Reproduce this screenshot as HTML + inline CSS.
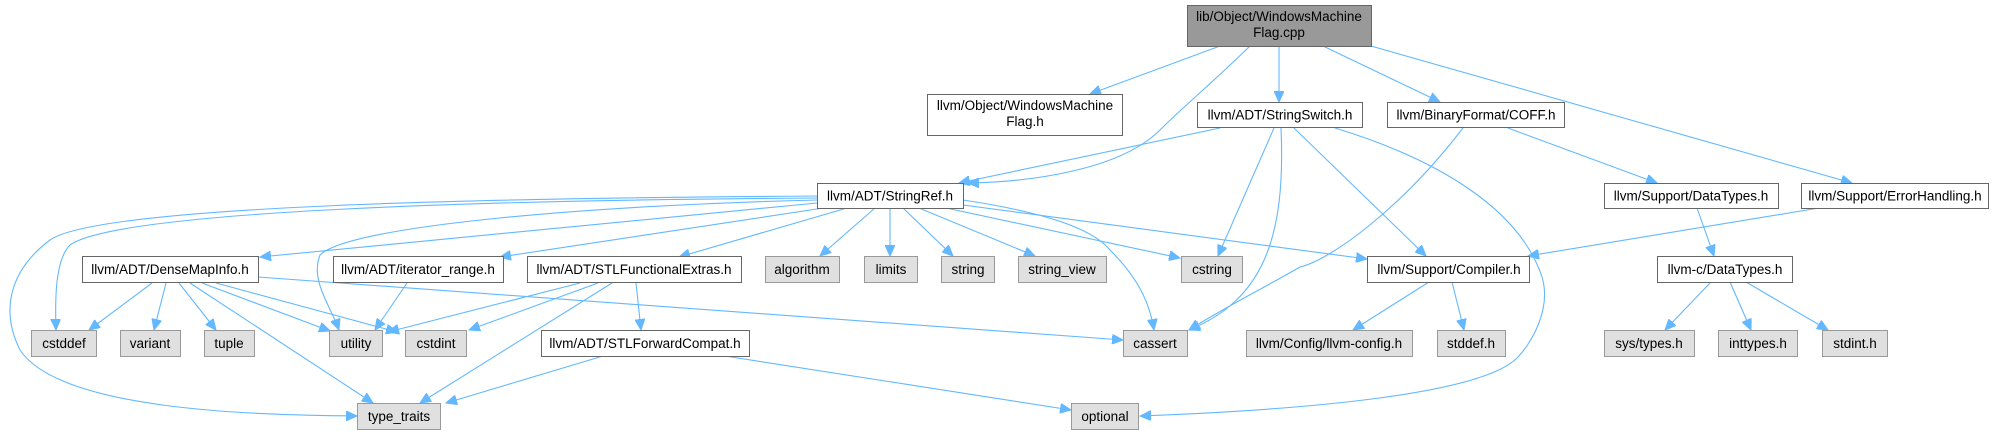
<!DOCTYPE html>
<html><head><meta charset="utf-8"><style>
html,body{margin:0;padding:0;background:#fff;}
svg{display:block;}
text{font-family:"Liberation Sans",Arial,sans-serif;font-size:13.5px;fill:#000;}
.w{fill:#fff;stroke:#666;stroke-width:1;}
.g{fill:#e0e0e0;stroke:#999;stroke-width:1;}
.t{fill:#999;stroke:#666;stroke-width:1;}
.e{fill:none;stroke:#63b8ff;stroke-width:1.1;}
</style></head><body>
<svg width="1992" height="435" viewBox="0 0 1992 435" xmlns="http://www.w3.org/2000/svg">
<defs>
<marker id="a" markerUnits="userSpaceOnUse" markerWidth="12" markerHeight="10" refX="11" refY="5" orient="auto">
<path d="M0,0 L11,5 L0,10 Z" fill="#63b8ff" stroke="#63b8ff"/>
</marker>
</defs>
<g marker-end="url(#a)">
<path class="e" d="M1220,46 L1090,94"/>
<path class="e" d="M1250,46 C1210,85 1185,105 1160,130 C1120,170 1030,182 968,183"/>
<path class="e" d="M1279,46 L1279,102"/>
<path class="e" d="M1323,46 L1440,102"/>
<path class="e" d="M1371,46 L1852,183"/>
<path class="e" d="M1220,128 L959,183"/>
<path class="e" d="M1274,128 L1218,256"/>
<path class="e" d="M1281,128 C1286,240 1262,300 1189,330"/>
<path class="e" d="M1294,128 L1426,256"/>
<path class="e" d="M1335,128 C1440,160 1520,210 1542,277 C1552,310 1530,345 1517,358 C1480,395 1300,410 1140,416"/>
<path class="e" d="M1463,128 C1400,210 1330,260 1300,267 C1260,290 1220,310 1189,330"/>
<path class="e" d="M1508,128 L1657,183"/>
<path class="e" d="M1819,208 L1528,256"/>
<path class="e" d="M1697,208 L1714,256"/>
<path class="e" d="M1711,282 L1665,330"/>
<path class="e" d="M1730,282 L1751,330"/>
<path class="e" d="M1746,282 L1828,330"/>
<path class="e" d="M1429,282 L1353,330"/>
<path class="e" d="M1452,282 L1464,330"/>
<path class="e" d="M817,203 L260,257"/>
<path class="e" d="M830,207 L500,257"/>
<path class="e" d="M847,208 L679,257"/>
<path class="e" d="M875,208 L820,256"/>
<path class="e" d="M890,208 L890,256"/>
<path class="e" d="M903,208 L953,256"/>
<path class="e" d="M919,208 L1035,256"/>
<path class="e" d="M946,208 L1180,258"/>
<path class="e" d="M963,205 L1367,259"/>
<path class="e" d="M963,200 C1030,210 1090,225 1110,250 C1140,280 1150,305 1154,330"/>
<path class="e" d="M817,198 C500,200 120,210 70,245 C55,260 55,300 56,330"/>
<path class="e" d="M817,196 C500,198 100,205 50,240 C10,270 0,310 20,350 C60,410 250,415 357,416"/>
<path class="e" d="M817,200 C600,205 350,225 320,255 C310,280 330,305 339,330"/>
<path class="e" d="M152,283 L89,330"/>
<path class="e" d="M166,283 L154,330"/>
<path class="e" d="M179,283 L216,330"/>
<path class="e" d="M190,283 L373,403"/>
<path class="e" d="M202,283 L330,331"/>
<path class="e" d="M216,283 L397,332"/>
<path class="e" d="M258,277 L1123,340"/>
<path class="e" d="M407,283 L375,330"/>
<path class="e" d="M580,283 L388,332"/>
<path class="e" d="M598,283 L469,330"/>
<path class="e" d="M612,283 L420,403"/>
<path class="e" d="M636,283 L641,330"/>
<path class="e" d="M603,356 L446,403"/>
<path class="e" d="M725,356 L1071,410"/>
</g>
<rect class="t" x="1187.5" y="5.5" width="184" height="41"/>
<text x="1279" y="21" text-anchor="middle">lib/Object/WindowsMachine</text>
<text x="1279" y="37" text-anchor="middle">Flag.cpp</text>

<rect class="w" x="927.5" y="94.5" width="195" height="41"/>
<text x="1025" y="110" text-anchor="middle">llvm/Object/WindowsMachine</text>
<text x="1025" y="126" text-anchor="middle">Flag.h</text>

<rect class="w" x="1197.5" y="102.5" width="165" height="25"/><text x="1280" y="119.5" text-anchor="middle">llvm/ADT/StringSwitch.h</text>
<rect class="w" x="1387.5" y="102.5" width="177" height="25"/><text x="1476" y="119.5" text-anchor="middle">llvm/BinaryFormat/COFF.h</text>
<rect class="w" x="817.5" y="183.5" width="146" height="25"/><text x="890" y="200.5" text-anchor="middle">llvm/ADT/StringRef.h</text>
<rect class="w" x="1604.5" y="183.5" width="174" height="25"/><text x="1691" y="200.5" text-anchor="middle">llvm/Support/DataTypes.h</text>
<rect class="w" x="1801.5" y="183.5" width="187" height="25"/><text x="1895" y="200.5" text-anchor="middle">llvm/Support/ErrorHandling.h</text>

<rect class="w" x="82.5" y="256.5" width="176" height="26"/><text x="170" y="274" text-anchor="middle">llvm/ADT/DenseMapInfo.h</text>
<rect class="w" x="333.5" y="256.5" width="170" height="26"/><text x="418" y="274" text-anchor="middle">llvm/ADT/iterator_range.h</text>
<rect class="w" x="527.5" y="256.5" width="214" height="26"/><text x="634" y="274" text-anchor="middle">llvm/ADT/STLFunctionalExtras.h</text>
<rect class="g" x="765.5" y="256.5" width="74" height="26"/><text x="802" y="274" text-anchor="middle">algorithm</text>
<rect class="g" x="864.5" y="256.5" width="53" height="26"/><text x="891" y="274" text-anchor="middle">limits</text>
<rect class="g" x="941.5" y="256.5" width="53" height="26"/><text x="968" y="274" text-anchor="middle">string</text>
<rect class="g" x="1018.5" y="256.5" width="88" height="26"/><text x="1062" y="274" text-anchor="middle">string_view</text>
<rect class="g" x="1181.5" y="256.5" width="61" height="26"/><text x="1212" y="274" text-anchor="middle">cstring</text>
<rect class="w" x="1367.5" y="256.5" width="162" height="26"/><text x="1449" y="274" text-anchor="middle">llvm/Support/Compiler.h</text>
<rect class="w" x="1657.5" y="256.5" width="135" height="26"/><text x="1725" y="274" text-anchor="middle">llvm-c/DataTypes.h</text>

<rect class="g" x="31.5" y="330.5" width="65" height="26"/><text x="64" y="348" text-anchor="middle">cstddef</text>
<rect class="g" x="120.5" y="330.5" width="60" height="26"/><text x="150" y="348" text-anchor="middle">variant</text>
<rect class="g" x="204.5" y="330.5" width="50" height="26"/><text x="229" y="348" text-anchor="middle">tuple</text>
<rect class="g" x="329.5" y="330.5" width="53" height="26"/><text x="356" y="348" text-anchor="middle">utility</text>
<rect class="g" x="405.5" y="330.5" width="61" height="26"/><text x="436" y="348" text-anchor="middle">cstdint</text>
<rect class="w" x="541.5" y="330.5" width="208" height="26"/><text x="645" y="348" text-anchor="middle">llvm/ADT/STLForwardCompat.h</text>
<rect class="g" x="1123.5" y="330.5" width="64" height="26"/><text x="1155" y="348" text-anchor="middle">cassert</text>
<rect class="g" x="1246.5" y="330.5" width="166" height="26"/><text x="1329" y="348" text-anchor="middle">llvm/Config/llvm-config.h</text>
<rect class="g" x="1437.5" y="330.5" width="68" height="26"/><text x="1471" y="348" text-anchor="middle">stddef.h</text>
<rect class="g" x="1604.5" y="330.5" width="90" height="26"/><text x="1649" y="348" text-anchor="middle">sys/types.h</text>
<rect class="g" x="1718.5" y="330.5" width="79" height="26"/><text x="1758" y="348" text-anchor="middle">inttypes.h</text>
<rect class="g" x="1822.5" y="330.5" width="65" height="26"/><text x="1855" y="348" text-anchor="middle">stdint.h</text>

<rect class="g" x="357.5" y="403.5" width="83" height="26"/><text x="399" y="421" text-anchor="middle">type_traits</text>
<rect class="g" x="1071.5" y="403.5" width="67" height="26"/><text x="1105" y="421" text-anchor="middle">optional</text>
</svg>
</body></html>
